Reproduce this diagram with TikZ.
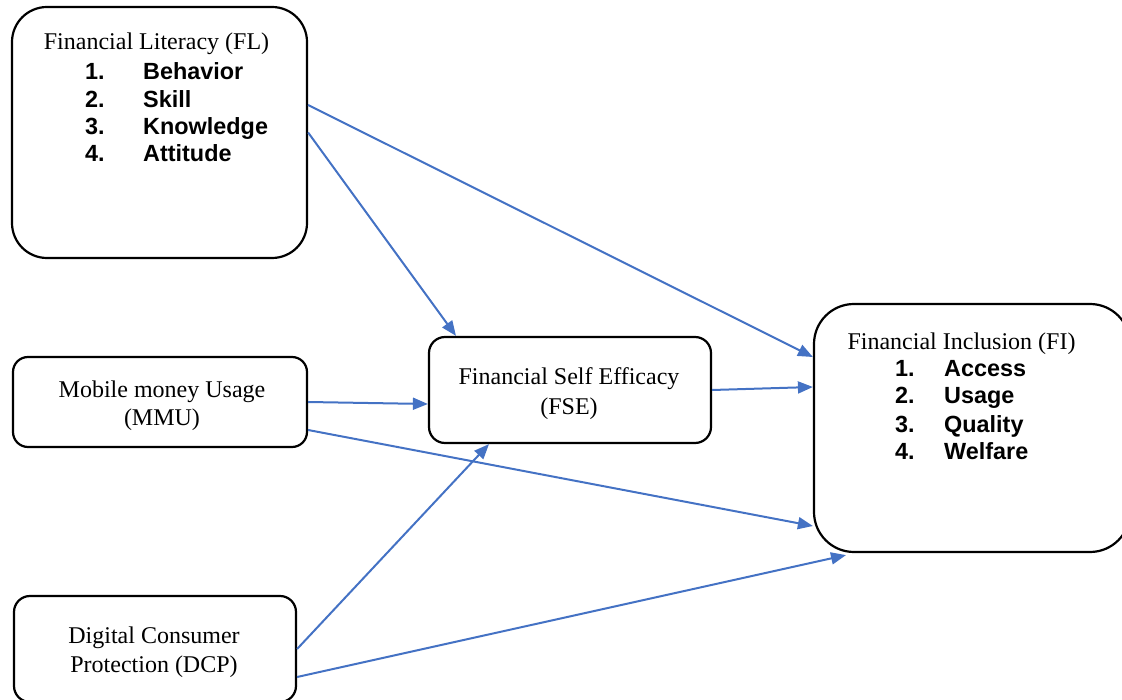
\documentclass[tikz,border=0pt]{standalone}
\usepackage{fontspec}
\setmainfont{Liberation Serif}
\newfontfamily\arialfont{Liberation Sans}
\usetikzlibrary{arrows.meta}
\definecolor{arrowblue}{HTML}{4472C4}
\tikzset{
  box/.style={draw=black, line width=2.2pt, fill=none, inner sep=0pt},
  serif/.style={inner sep=0pt, anchor=base, font=\fontsize{24}{28}\selectfont},
  item/.style={inner sep=0pt, anchor=base west, font=\arialfont\bfseries\fontsize{23.4}{28}\selectfont},
  conn/.style={draw=arrowblue, line width=2pt, -{Triangle[length=15pt,width=12pt]}}
}
\begin{document}
\begin{tikzpicture}[x=1pt,y=-1pt]
\useasboundingbox (0,0) rectangle (1122,700);
% boxes
\node[box, minimum width=295pt, minimum height=251pt, rounded corners=35pt] (fl) at (159.5,132.5) {};
\node[box, minimum width=294pt, minimum height=90pt, rounded corners=15pt] (mmu) at (160,402) {};
\node[box, minimum width=282pt, minimum height=106pt, rounded corners=16pt] (fse) at (570,390) {};
\node[box, minimum width=282pt, minimum height=106pt, rounded corners=16pt] (dcp) at (155,649) {};
\node[box, minimum width=316pt, minimum height=248pt, rounded corners=40pt] (fi) at (972,428) {};
% FL text
\node[serif] (fltitle) at (156.5,50) {Financial Literacy (FL)};
\node[item] (fln1) at (85,80) {1.};
\node[item] (flt1) at (143,80) {Behavior};
\node[item] (fln2) at (85,108) {2.};
\node[item] (flt2) at (143,108) {Skill};
\node[item] (fln3) at (85,135) {3.};
\node[item] (flt3) at (143,135) {Knowledge};
\node[item] (fln4) at (85,162) {4.};
\node[item] (flt4) at (143,162) {Attitude};
% FI text
\node[serif] (fititle) at (961.5,350) {Financial Inclusion (FI)};
\node[item] (fin1) at (895,377) {1.};
\node[item] (fit1) at (944,377) {Access};
\node[item] (fin2) at (895,404) {2.};
\node[item] (fit2) at (944,404) {Usage};
\node[item] (fin3) at (895,432) {3.};
\node[item] (fit3) at (944,432) {Quality};
\node[item] (fin4) at (895,459) {4.};
\node[item] (fit4) at (944,459) {Welfare};
% other texts
\node[serif] (fse1) at (569,385) {Financial Self Efficacy};
\node[serif] (fse2) at (569,414) {(FSE)};
\node[serif] (mmu1) at (162,398) {Mobile money Usage};
\node[serif] (mmu2) at (162,425) {(MMU)};
\node[serif] (dcp1) at (154,643) {Digital Consumer};
\node[serif] (dcp2) at (154,672) {Protection (DCP)};
% connectors
\draw[conn] ([yshift=27.5pt]fl.east) -- ([yshift=71pt]fi.west);
\draw[conn] (fl.east) -- ([xshift=-114pt]fse.north);
\draw[conn] (mmu.east) -- ([yshift=-14pt]fse.west);
\draw[conn] (fse.east) -- ([yshift=41pt]fi.west);
\draw[conn] ([yshift=-28pt]mmu.east) -- ([yshift=-98pt]fi.west);
\draw[conn] (dcp.east) -- ([xshift=-81pt]fse.south);
\draw[conn] ([yshift=-28pt]dcp.east) -- ([xshift=-126pt,yshift=-2pt]fi.south);
\end{tikzpicture}
\end{document}
